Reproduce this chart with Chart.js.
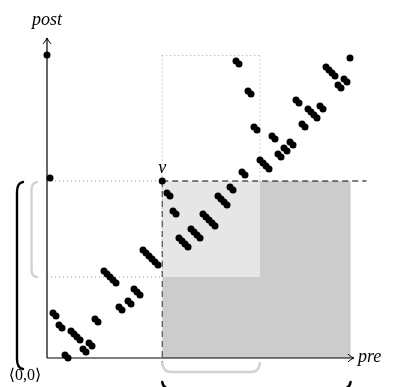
<!DOCTYPE html>
<html>
<head>
<meta charset="utf-8">
<script src="https://cdn.jsdelivr.net/npm/chart.js@4.4.1/dist/chart.umd.min.js"></script>
<style>
  html, body { margin: 0; padding: 0; background: #fff; }
  #wrap { width: 397px; height: 387px; }
</style>
</head>
<body>
<div id="wrap"><canvas id="plane" width="397" height="387"></canvas></div>
<script>
// nodes of the tree, placed by preorder and postorder rank
const preRank = [
  0, 1,
  2, 3, 4, 5, 6, 7, 8, 9, 10, 11, 12, 13, 14, 15, 16, 17,
  19, 20, 21, 22, 23, 24, 25, 27, 28, 29, 30, 31,
  32, 33, 34, 35, 36, 37,
  38.4,
  40, 41, 42, 43, 44, 45, 46, 47, 48, 49, 50, 51,
  52, 53, 54, 55, 56, 57, 58, 59, 60, 61, 62,
  63, 64, 65, 66, 67, 68, 69, 70, 71, 72, 73, 74,
  75, 76, 77, 78, 79, 80, 81, 82, 83, 84, 85, 86,
  87, 88, 89, 90, 91, 92, 93, 94, 95, 96, 97, 98, 99, 100, 101
];
const postRank = [
  101, 60,
  15, 14, 11, 10, 1, 0, 9, 8, 7, 6, 3, 2, 5, 4, 13, 12,
  29, 28, 27, 26, 25, 17, 16, 19, 18, 23, 22, 21,
  36, 35, 34, 33, 32, 31,
  59,
  55, 54, 49, 48, 40, 39, 38, 37, 43, 42, 41, 40,
  48, 47, 46, 45, 44, 54, 53, 52, 51, 57, 56,
  99, 98, 62, 61, 89, 88, 77, 76, 66, 65, 64, 63,
  74, 73, 68, 67, 70, 69, 72, 71, 86, 85, 78, 77,
  83, 82, 81, 80, 84, 83, 97, 96, 95, 94, 91, 90, 93, 92, 100
];

// node v and the extent of its subtree
const vPre = 38.4;
const vPost = 59;
const subtreeLastPre = 71;
const subtreeFirstPost = 27;
const lastPre = 101.2;
const topPost = 100.8;

const planeDecor = {
  id: 'planeDecor',
  beforeDatasetsDraw(chart) {
    const ctx = chart.ctx;
    const px = v => chart.scales.x.getPixelForValue(v);
    const py = v => chart.scales.y.getPixelForValue(v);
    const x0 = px(0), y0 = py(0);
    const seg = (a, b, c, d) => {
      ctx.beginPath(); ctx.moveTo(a, b); ctx.lineTo(c, d); ctx.stroke();
    };
    ctx.save();

    // regions right of v
    ctx.fillStyle = '#cccccc';
    ctx.fillRect(px(vPre), py(vPost), px(lastPre) - px(vPre), y0 - py(vPost));
    ctx.fillStyle = '#e6e6e6';
    ctx.fillRect(px(vPre), py(vPost), px(subtreeLastPre) - px(vPre), py(subtreeFirstPost) - py(vPost));

    // dotted guides
    ctx.strokeStyle = '#a0a0a0';
    ctx.lineWidth = 1;
    ctx.setLineDash([1, 3]);
    seg(x0, py(vPost), px(vPre), py(vPost));
    seg(x0, py(subtreeFirstPost), px(vPre), py(subtreeFirstPost));
    seg(px(vPre), py(topPost), px(vPre), py(subtreeFirstPost));
    seg(px(subtreeLastPre), py(topPost), px(subtreeLastPre), py(vPost));
    seg(px(vPre), py(topPost), px(subtreeLastPre), py(topPost));

    // dashed lines through v
    ctx.setLineDash([6, 4]);
    ctx.strokeStyle = '#000';
    seg(px(vPre), py(vPost), px(106.5), py(vPost));
    ctx.strokeStyle = '#333';
    seg(px(vPre), py(vPost), px(vPre), py(-2.4));
    ctx.setLineDash([]);

    // axes with arrow tips
    ctx.strokeStyle = '#000';
    ctx.lineWidth = 1.2;
    seg(x0, y0, x0, py(106.7));
    seg(x0, y0, px(102.3), y0);
    ctx.lineWidth = 1;
    const ty = py(106.7);
    ctx.beginPath();
    ctx.moveTo(x0 - 4, ty + 6); ctx.quadraticCurveTo(x0 - 1, ty + 3, x0, ty);
    ctx.quadraticCurveTo(x0 + 1, ty + 3, x0 + 4, ty + 6);
    ctx.stroke();
    const tx = px(102.3);
    ctx.beginPath();
    ctx.moveTo(tx - 6, y0 - 4); ctx.quadraticCurveTo(tx - 3, y0 - 1, tx, y0);
    ctx.quadraticCurveTo(tx - 3, y0 + 1, tx - 6, y0 + 4);
    ctx.stroke();

    // braces
    ctx.lineCap = 'round';
    ctx.lineWidth = 2.4;
    ctx.strokeStyle = '#000';
    const by0 = py(vPost), by1 = y0 + 10;
    ctx.beginPath();
    ctx.moveTo(23, by0 + 1); ctx.quadraticCurveTo(17, by0 + 2, 17, by0 + 11);
    ctx.lineTo(17, by1 - 9); ctx.quadraticCurveTo(17, by1, 23, by1 + 1);
    ctx.stroke();

    ctx.strokeStyle = '#d2d2d2';
    const gy1 = py(subtreeFirstPost);
    ctx.beginPath();
    ctx.moveTo(37, by0 + 1); ctx.quadraticCurveTo(31.5, by0 + 2, 31.5, by0 + 9);
    ctx.lineTo(31.5, gy1 - 8); ctx.quadraticCurveTo(31.5, gy1, 37, gy1);
    ctx.stroke();

    const gx0 = px(vPre), gx1 = px(subtreeLastPre);
    ctx.beginPath();
    ctx.moveTo(gx0, y0 + 5); ctx.quadraticCurveTo(gx0 + 1, y0 + 14, gx0 + 9, y0 + 14);
    ctx.lineTo(gx1 - 9, y0 + 14); ctx.quadraticCurveTo(gx1 - 1, y0 + 14, gx1, y0 + 5);
    ctx.stroke();

    ctx.strokeStyle = '#000';
    const bx1 = px(lastPre);
    ctx.beginPath();
    ctx.moveTo(gx0, y0 + 24); ctx.quadraticCurveTo(gx0 + 1, y0 + 31, gx0 + 9, y0 + 31);
    ctx.lineTo(bx1 - 9, y0 + 31); ctx.quadraticCurveTo(bx1 - 1, y0 + 31, bx1, y0 + 24);
    ctx.stroke();

    // labels
    ctx.fillStyle = '#000';
    ctx.font = 'italic 18px "Liberation Serif", "DejaVu Serif", serif';
    ctx.textAlign = 'center';
    ctx.textBaseline = 'alphabetic';
    ctx.fillText('post', x0, 25);
    ctx.fillText('v', px(vPre), py(vPost) - 8);
    ctx.textAlign = 'left';
    ctx.fillText('pre', tx + 4, y0 + 4);
    ctx.font = '16px "Liberation Serif", "DejaVu Serif", serif';
    ctx.textAlign = 'center';
    ctx.fillText('\u27E80,0\u27E9', 25, y0 + 22);

    ctx.restore();
  }
};

new Chart(document.getElementById('plane'), {
  type: 'scatter',
  data: {
    datasets: [{
      data: preRank.map((p, i) => ({ x: p, y: postRank[i] })),
      backgroundColor: '#000',
      borderWidth: 0,
      pointRadius: 3.5,
      pointHoverRadius: 3.5,
      clip: false
    }]
  },
  options: {
    responsive: false,
    devicePixelRatio: 1,
    animation: false,
    layout: { padding: { left: 47, right: 47, top: 55, bottom: 29 } },
    scales: {
      x: { type: 'linear', min: 0, max: 101, display: false },
      y: { type: 'linear', min: 0, max: 101, display: false }
    },
    plugins: {
      legend: { display: false },
      tooltip: { enabled: false }
    }
  },
  plugins: [planeDecor]
});
</script>
</body>
</html>
